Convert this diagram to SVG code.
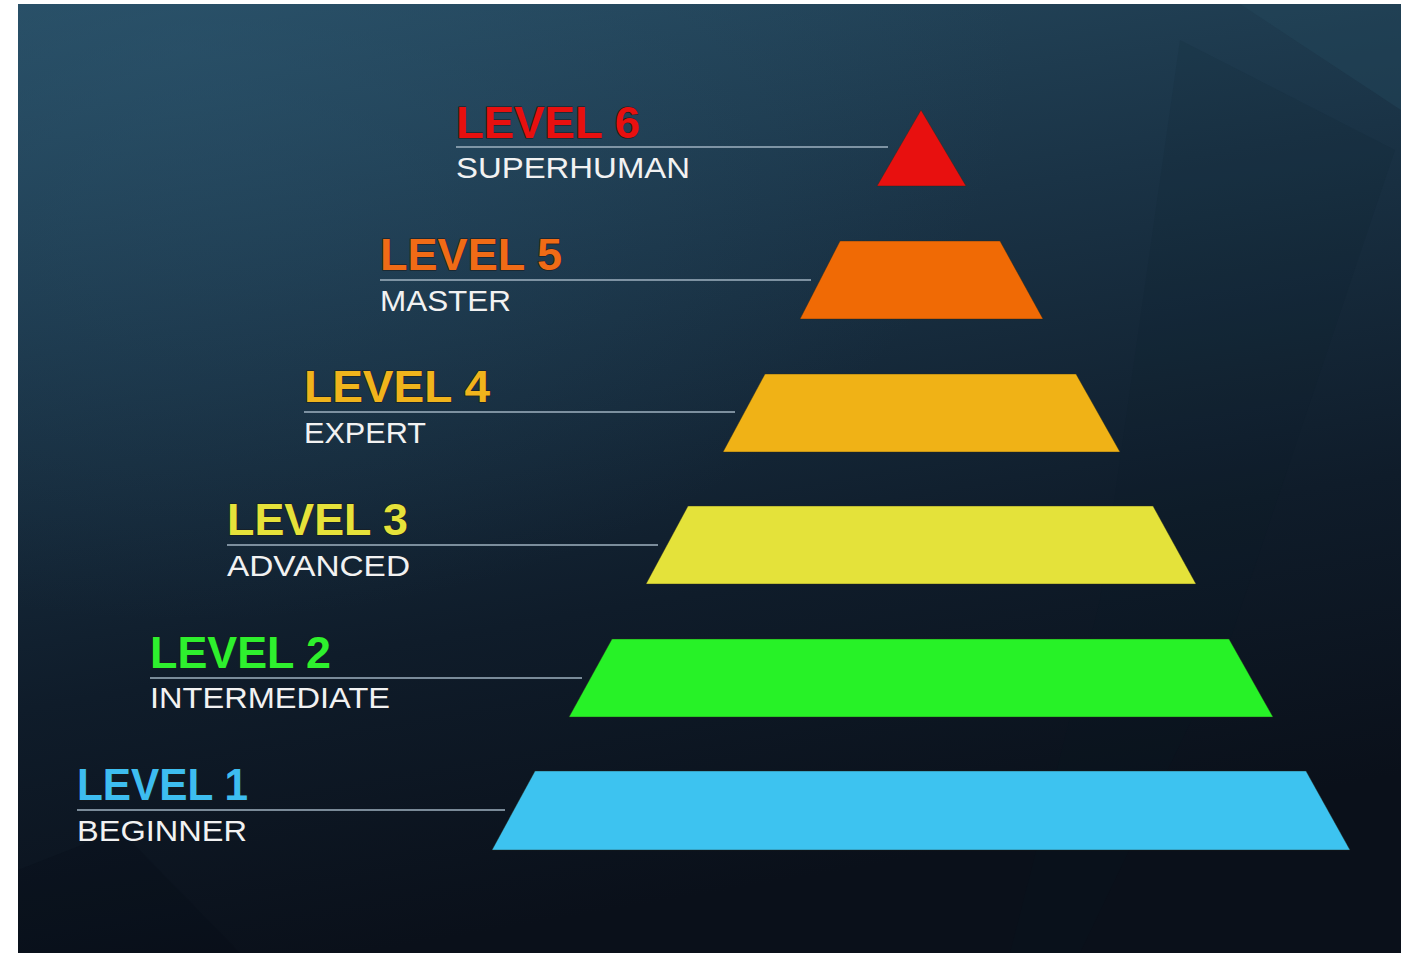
<svg xmlns="http://www.w3.org/2000/svg" width="1401" height="953" viewBox="0 0 1401 953">
<defs>
<linearGradient id="bg" x1="0" y1="0" x2="0.25" y2="1">
<stop offset="0" stop-color="#274c62"/>
<stop offset="0.35" stop-color="#1a3346"/>
<stop offset="0.7" stop-color="#0f1c2a"/>
<stop offset="1" stop-color="#0a101a"/>
</linearGradient>
<radialGradient id="glow" cx="0.12" cy="0.05" r="0.6">
<stop offset="0" stop-color="#2c5670" stop-opacity="0.5"/>
<stop offset="1" stop-color="#2c5670" stop-opacity="0"/>
</radialGradient>
<style>
.title{font-family:"Liberation Sans",Arial,sans-serif;font-weight:bold;font-size:44px;stroke:#1a1a1a;stroke-width:1.2;paint-order:stroke;}
.sub{font-family:"Liberation Sans",Arial,sans-serif;font-size:29px;fill:#f2f2f2;}
.rule{stroke:#9fb2c0;stroke-width:1.5;}
.step{stroke:#2a2a1a;stroke-width:1;stroke-opacity:0.4;}
</style>
</defs>
<rect x="0" y="0" width="1401" height="953" fill="#ffffff"/>
<rect x="18" y="4" width="1383" height="949" fill="url(#bg)"/>
<rect x="18" y="4" width="1383" height="949" fill="url(#glow)"/>
<polygon points="1240,4 1401,4 1401,110" fill="#24475a" opacity="0.45"/>
<polygon points="1180,40 1395,150 1230,640 1080,953 1010,953 1100,600" fill="#0e1a26" opacity="0.1"/>
<polygon points="18,870 120,830 240,953 18,953" fill="#060a12" opacity="0.2"/>

<g id="level6">
<polygon class="step" points="921,110 966,186 877,186" fill="#e8100f"/>
<text class="title" x="456" y="138" fill="#e8100f" textLength="184" lengthAdjust="spacingAndGlyphs">LEVEL 6</text>
<text class="sub" x="456" y="178" textLength="234" lengthAdjust="spacingAndGlyphs">SUPERHUMAN</text>
</g>
<g id="level5">
<polygon class="step" points="840,241 1000,241 1043,319 800,319" fill="#f06a05"/>
<text class="title" x="380" y="270" fill="#f06b16" textLength="182" lengthAdjust="spacingAndGlyphs">LEVEL 5</text>
<text class="sub" x="380" y="311" textLength="131" lengthAdjust="spacingAndGlyphs">MASTER</text>
</g>
<g id="level4">
<polygon class="step" points="765,374 1076,374 1120,452 723,452" fill="#f0b216"/>
<text class="title" x="304" y="402" fill="#f0b41c" textLength="186" lengthAdjust="spacingAndGlyphs">LEVEL 4</text>
<text class="sub" x="304" y="443" textLength="122" lengthAdjust="spacingAndGlyphs">EXPERT</text>
</g>
<g id="level3">
<polygon class="step" points="688,506 1153,506 1196,584 646,584" fill="#e4e23a"/>
<text class="title" x="227" y="535" fill="#e6e23a" textLength="181" lengthAdjust="spacingAndGlyphs">LEVEL 3</text>
<text class="sub" x="227" y="576" textLength="183" lengthAdjust="spacingAndGlyphs">ADVANCED</text>
</g>
<g id="level2">
<polygon class="step" points="612,639 1229,639 1273,717 569,717" fill="#27f227"/>
<text class="title" x="150" y="668" fill="#2ef02e" textLength="181" lengthAdjust="spacingAndGlyphs">LEVEL 2</text>
<text class="sub" x="150" y="708" textLength="240" lengthAdjust="spacingAndGlyphs">INTERMEDIATE</text>
</g>
<g id="level1">
<polygon class="step" points="535,771 1306,771 1350,850 492,850" fill="#3dc3f0"/>
<text class="title" x="77" y="800" fill="#3dbdf0" textLength="171" lengthAdjust="spacingAndGlyphs">LEVEL 1</text>
<text class="sub" x="77" y="841" textLength="170" lengthAdjust="spacingAndGlyphs">BEGINNER</text>
</g>

<g id="connectors">
<line class="rule" x1="456" y1="147" x2="888" y2="147"/>
<line class="rule" x1="380" y1="280" x2="811" y2="280"/>
<line class="rule" x1="304" y1="412" x2="735" y2="412"/>
<line class="rule" x1="227" y1="545" x2="658" y2="545"/>
<line class="rule" x1="150" y1="678" x2="582" y2="678"/>
<line class="rule" x1="77" y1="810" x2="505" y2="810"/>
</g>
</svg>
